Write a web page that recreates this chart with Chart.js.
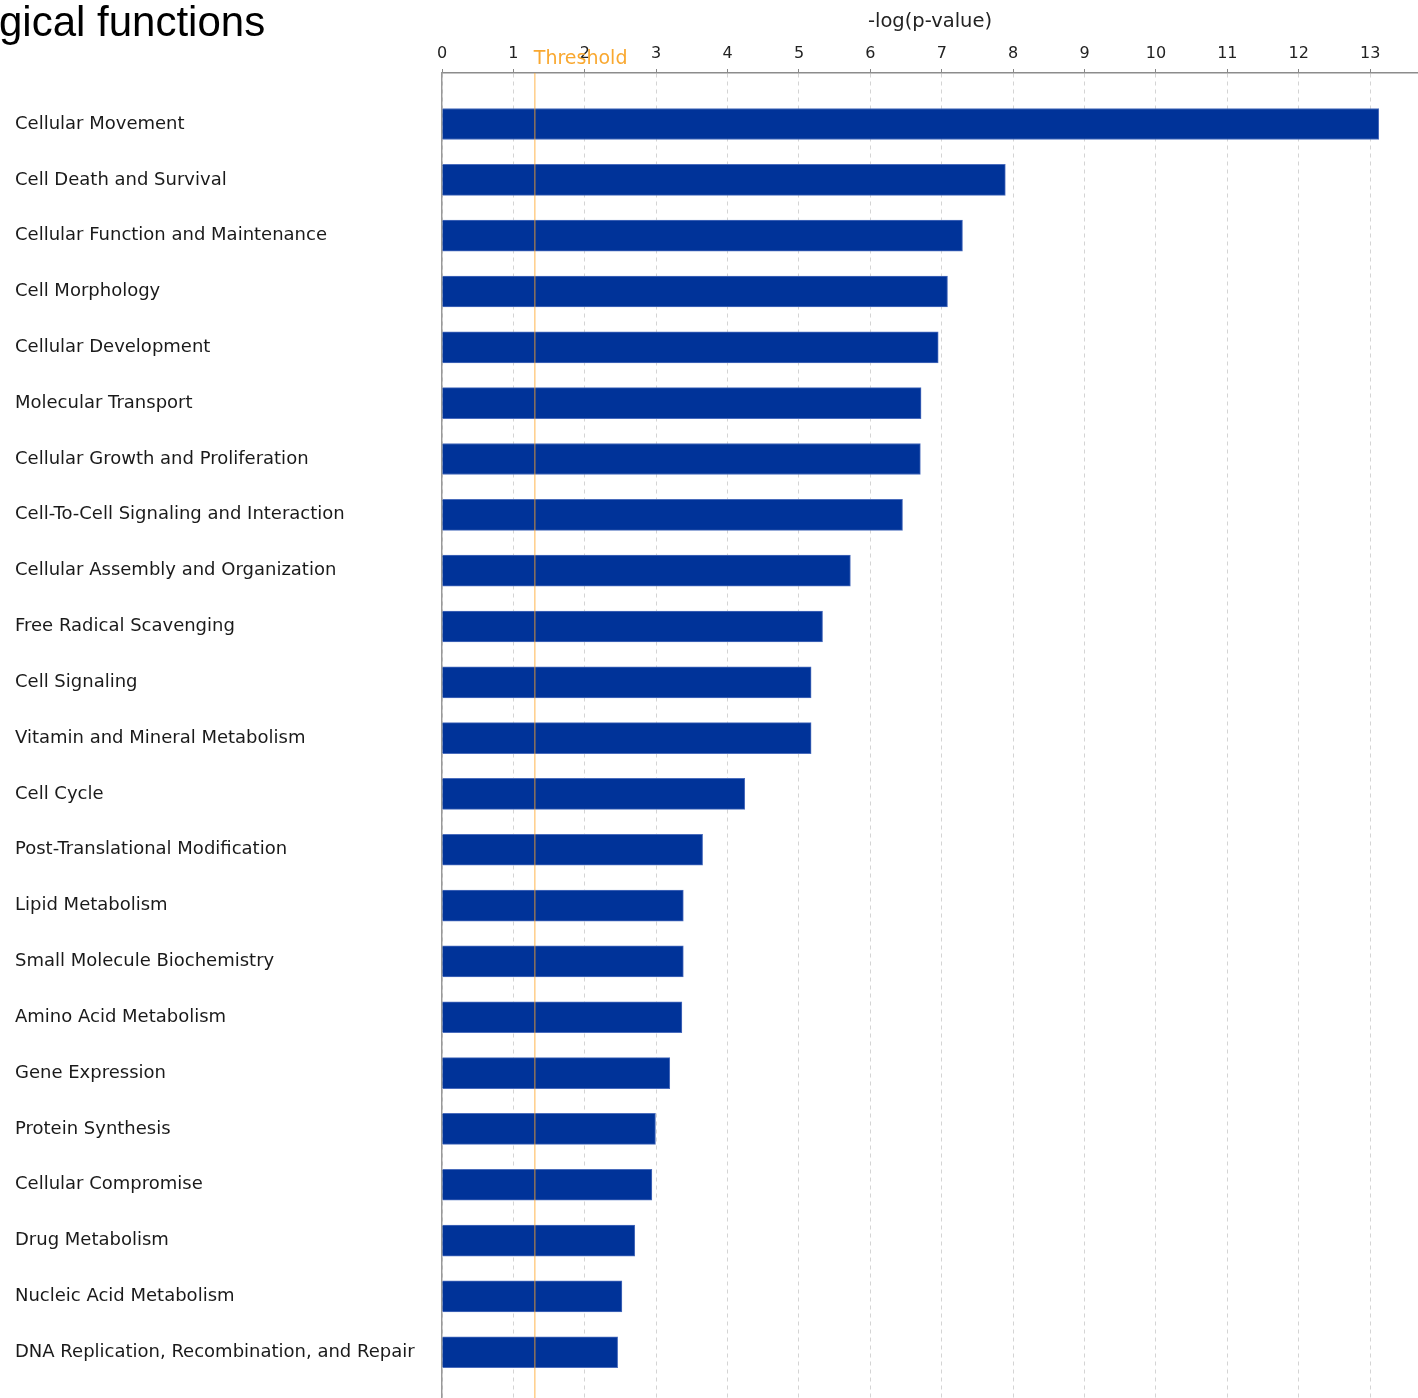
<!DOCTYPE html>
<html>
<head>
<meta charset="utf-8">
<script src="https://cdn.jsdelivr.net/npm/chart.js@4"></script>
<style>
  body { margin: 0; background: #fff; }
  canvas { display: block; }
</style>
</head>
<body>
<canvas id="chart" width="1418" height="1398"></canvas>
<script>
const categories = [
  "Cellular Movement",
  "Cell Death and Survival",
  "Cellular Function and Maintenance",
  "Cell Morphology",
  "Cellular Development",
  "Molecular Transport",
  "Cellular Growth and Proliferation",
  "Cell-To-Cell Signaling and Interaction",
  "Cellular Assembly and Organization",
  "Free Radical Scavenging",
  "Cell Signaling",
  "Vitamin and Mineral Metabolism",
  "Cell Cycle",
  "Post-Translational Modification",
  "Lipid Metabolism",
  "Small Molecule Biochemistry",
  "Amino Acid Metabolism",
  "Gene Expression",
  "Protein Synthesis",
  "Cellular Compromise",
  "Drug Metabolism",
  "Nucleic Acid Metabolism",
  "DNA Replication, Recombination, and Repair"
];
const logPValues = [
  13.12, 7.89, 7.29, 7.08, 6.95, 6.71, 6.70, 6.45, 5.72, 5.33, 5.17, 5.17,
  4.24, 3.65, 3.38, 3.38, 3.36, 3.19, 2.99, 2.94, 2.70, 2.52, 2.46
];
const threshold = 1.3;
const axisTitle = "-log(p-value)";
const pageTitle = "gical functions";

const barColor = "#003399";

// threshold line + label, and the cropped slide title
const extras = {
  id: "extras",
  afterDatasetsDraw(chart) {
    const ctx = chart.ctx;
    const area = chart.chartArea;
    const x = chart.scales.x.getPixelForValue(threshold);
    ctx.save();
    ctx.strokeStyle = "rgba(255, 165, 40, 0.55)";
    ctx.lineWidth = 1.5;
    ctx.beginPath();
    ctx.moveTo(x, area.top);
    ctx.lineTo(x, chart.height);
    ctx.stroke();
    ctx.fillStyle = "#f9a830";
    ctx.font = "19px 'DejaVu Sans'";
    ctx.textBaseline = "alphabetic";
    ctx.textAlign = "left";
    ctx.fillText("Threshold", x - 1, 64);
    ctx.restore();
  },
  afterDraw(chart) {
    const ctx = chart.ctx;
    ctx.save();
    ctx.fillStyle = "#000";
    ctx.font = "42px 'Liberation Sans'";
    ctx.textBaseline = "alphabetic";
    ctx.fillText(pageTitle, -1, 36);
    ctx.restore();
  }
};

new Chart(document.getElementById("chart"), {
  type: "bar",
  data: {
    datasets: [{
      data: logPValues.map((v, i) => ({ x: v, y: i })),
      backgroundColor: barColor,
      borderColor: "#4a6cbc",
      borderWidth: 1,
      barThickness: 31
    }]
  },
  plugins: [extras],
  options: {
    indexAxis: "y",
    responsive: false,
    animation: false,
    devicePixelRatio: 1,
    layout: { padding: { left: 15, top: 0, right: 0, bottom: 0 } },
    plugins: {
      legend: { display: false },
      tooltip: { enabled: false }
    },
    scales: {
      x: {
        type: "linear",
        position: "top",
        min: 0,
        max: 13.67,
        afterFit(scale) { scale.height = 73; },
        title: {
          display: true,
          text: axisTitle,
          color: "#222",
          font: { family: "DejaVu Sans", size: 19.5 },
          padding: { top: 10, bottom: 0 }
        },
        ticks: {
          stepSize: 1,
          maxTicksLimit: 30,
          includeBounds: false,
          color: "#222",
          padding: 6,
          font: { family: "DejaVu Sans", size: 16 }
        },
        grid: {
          color: "#d4d4d4",
          lineWidth: 1,
          tickLength: 4,
          tickColor: "#888",
          tickBorderDash: []
        },
        border: { color: "#8c8c8c", width: 1.5, dash: [4, 4] }
      },
      y: {
        type: "linear",
        reverse: true,
        offset: false,
        min: -0.914,
        max: 22.82,
        afterFit(scale) {
          scale.width = 427;
          scale.paddingTop = 0;
          scale.paddingBottom = 0;
        },
        ticks: {
          stepSize: 1,
          maxTicksLimit: 40,
          includeBounds: false,
          autoSkip: false,
          crossAlign: "far",
          padding: 0,
          color: "#1a1a1a",
          font: { family: "DejaVu Sans", size: 18 },
          callback: (v) => categories[v] ?? ""
        },
        grid: { display: false, offset: false },
        border: { display: true, color: "#999", width: 1.5 }
      }
    }
  }
});
</script>
</body>
</html>
